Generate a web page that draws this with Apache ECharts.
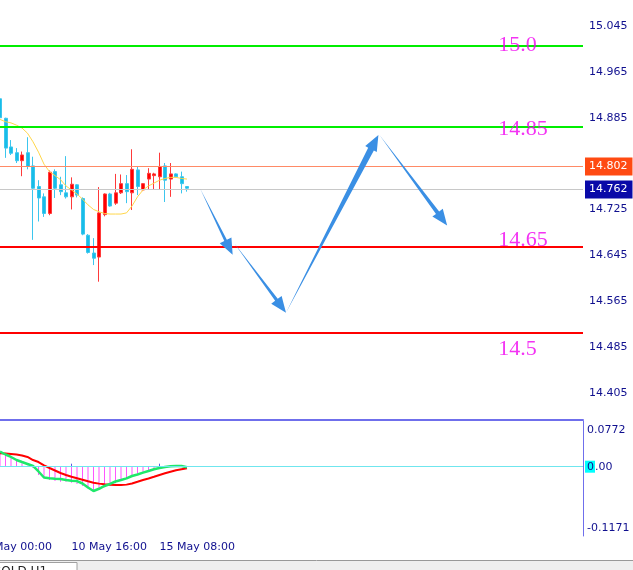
<!DOCTYPE html>
<html><head><meta charset="utf-8">
<script src="https://cdn.jsdelivr.net/npm/echarts@6/dist/echarts.min.js"></script>
<style>html,body{margin:0;padding:0;background:#fff}#c{width:633px;height:570px}</style>
</head><body><div id="c"></div>
<script>
// ---------- data ----------
const times = ['8 May 00:00','8 May 04:00','8 May 08:00','8 May 12:00','8 May 16:00','8 May 20:00',
  '9 May 00:00','9 May 04:00','9 May 08:00','9 May 12:00','9 May 16:00','9 May 20:00',
  '10 May 00:00','10 May 04:00','10 May 08:00','10 May 12:00','10 May 16:00','10 May 20:00',
  '13 May 00:00','13 May 04:00','13 May 08:00','13 May 12:00','13 May 16:00','13 May 20:00',
  '14 May 00:00','14 May 04:00','14 May 08:00','14 May 12:00','14 May 16:00','14 May 20:00',
  '15 May 00:00','15 May 04:00','15 May 08:00','15 May 12:00','15 May 16:00','15 May 20:00',
  '16 May 00:00','16 May 04:00'];
const firstBar = 3;        // first bar with drawn data (8 May 12:00)
const totalSlots = 110;    // bars visible across the chart incl. empty future space
const labelEvery = 16;

const opens  = [14.918,14.884,14.834,14.824,14.810,14.824,14.801,14.765,14.747,14.718,14.791,14.768,14.754,14.747,14.768,14.744,14.680,14.649,14.642,14.716,14.752,14.736,14.754,14.770,14.754,14.794,14.759,14.778,14.784,14.782,14.801,14.778,14.787,14.782,14.765];
const closes = [14.885,14.832,14.823,14.810,14.820,14.800,14.762,14.745,14.718,14.790,14.762,14.756,14.747,14.769,14.750,14.682,14.650,14.640,14.719,14.752,14.731,14.754,14.770,14.756,14.795,14.765,14.770,14.788,14.787,14.800,14.776,14.787,14.782,14.770,14.762];
const lows   = [14.881,14.815,14.820,14.806,14.783,14.795,14.672,14.704,14.712,14.715,14.745,14.750,14.744,14.725,14.746,14.680,14.648,14.628,14.599,14.713,14.730,14.733,14.752,14.736,14.724,14.750,14.757,14.759,14.759,14.759,14.738,14.747,14.781,14.753,14.756];
const highs  = [14.921,14.885,14.846,14.832,14.826,14.851,14.817,14.776,14.753,14.793,14.795,14.782,14.818,14.781,14.769,14.746,14.682,14.675,14.764,14.753,14.754,14.787,14.786,14.785,14.830,14.800,14.771,14.797,14.789,14.824,14.806,14.806,14.788,14.791,14.765];
const maValues = [14.882,14.878,14.876,14.872,14.867,14.858,14.843,14.825,14.804,14.791,14.784,14.777,14.766,14.759,14.752,14.743,14.733,14.725,14.721,14.718,14.717,14.717,14.717,14.719,14.731,14.747,14.759,14.766,14.771,14.776,14.779,14.781,14.781,14.779,14.778];

const macdHist  = [0.0265,0.0237,0.0169,0.0101,0.0057,0.0017,-0.0020,-0.0140,-0.0196,-0.0225,-0.0242,-0.0253,-0.0253,-0.0270,-0.0292,-0.0326,-0.0365,-0.0406,-0.0394,-0.0348,-0.0326,-0.0281,-0.0237,-0.0196,-0.0157,-0.0112,-0.0085,-0.0056,-0.0039,-0.0022,-0.0014,-0.0005,0.0003,0.0003,-0.0005];
const macdGreen = [0.0254,0.0206,0.0164,0.0113,0.0079,0.0046,0.0012,-0.0081,-0.0183,-0.0196,-0.0203,-0.0208,-0.0225,-0.0237,-0.0242,-0.0284,-0.0352,-0.0411,-0.0373,-0.0326,-0.0292,-0.0250,-0.0225,-0.0198,-0.0157,-0.0132,-0.0101,-0.0073,-0.0044,-0.0022,-0.0005,0.0007,0.0012,0.0012,-0.0010];
const macdRed   = [0.0226,0.0221,0.0215,0.0206,0.0189,0.0164,0.0113,0.0079,0.0024,-0.0022,-0.0064,-0.0106,-0.0140,-0.0171,-0.0196,-0.0221,-0.0247,-0.0270,-0.0286,-0.0297,-0.0306,-0.0309,-0.0309,-0.0303,-0.0284,-0.0255,-0.0225,-0.0199,-0.0171,-0.0140,-0.0112,-0.0085,-0.0061,-0.0044,-0.0027];

const priceMin = 14.3578, priceMax = 15.0903;
const priceTicks = [15.045, 14.965, 14.885, 14.725, 14.645, 14.565, 14.485, 14.405];
const macdMin = -0.1171, macdMax = 0.0772;
const macdTicks = [0.0772, 0, -0.1171];
const macdTickLabels = ['0.0772', '0.00', '-0.1171'];

const greenLevels = [15.008, 14.870];
const redLevels = [14.659, 14.507];
const askPrice = 14.802, bidPrice = 14.762;

const levelTexts = ['15.0', '14.85', '14.65', '14.5'];
const levelTextPrices = [15.011, 14.865, 14.671, 14.481];
const levelTextBar = 93.5;

// arrows: [fromBar, fromPrice, toBar, toPrice]
const arrows = [
  [39.4, 14.761, 45.3, 14.646],
  [45.6, 14.666, 55.0, 14.545],
  [55.0, 14.545, 71.8, 14.855],
  [72.0, 14.855, 84.3, 14.697]
];

// ---------- build ----------
const categories = times.concat(Array.from({length: totalSlots - times.length}, (_, i) => '#' + i));
const pad = arr => Array(firstBar).fill('-').concat(arr);
const candleData = pad(opens.map((o, i) => [o, closes[i], lows[i], highs[i]]));
const showLabel = (i) => i % labelEvery === 0 && i < times.length;

const NAVY = '#10108f';
const AXIS = '#6f6fec';

function renderArrow(params, api) {
  const s = api.coord([api.value(0), api.value(1)]);
  const e = api.coord([api.value(2), api.value(3)]);
  const dx = e[0] - s[0], dy = e[1] - s[1];
  const L = Math.hypot(dx, dy);
  const ux = dx / L, uy = dy / L, nx = -uy, ny = ux;
  const h = 16, hw = 6.5, sw = 0.4 + L * 0.014;
  const bx = e[0] - ux * h, by = e[1] - uy * h;
  return {
    type: 'polygon',
    shape: { points: [
      s,
      [bx + nx * sw, by + ny * sw],
      [bx + nx * hw, by + ny * hw],
      e,
      [bx - nx * hw, by - ny * hw],
      [bx - nx * sw, by - ny * sw]
    ]},
    style: { fill: '#3a8fe4' }
  };
}

const chart = echarts.init(document.getElementById('c'), null, {renderer: 'canvas'});
chart.setOption({
  animation: false,
  backgroundColor: '#ffffff',
  grid: [
    { left: -16.5, right: 50, top: 0, height: 420, outerBoundsMode: 'none' },
    { left: -16.5, right: 50, top: 421, height: 115, outerBoundsMode: 'none' }
  ],
  xAxis: [
    { type: 'category', gridIndex: 0, data: categories, boundaryGap: false,
      axisLine: { show: true, lineStyle: { color: AXIS, width: 2 } },
      axisTick: { show: false }, axisLabel: { show: false }, splitLine: { show: false } },
    { type: 'category', gridIndex: 1, data: categories, boundaryGap: false,
      axisLine: { show: true, lineStyle: { color: '#5a5ae2', width: 1 } },
      axisTick: { show: true, inside: true, length: 3, interval: showLabel, lineStyle: { color: '#5a5ae2' } },
      axisLabel: { show: true, interval: showLabel, align: 'left', margin: 6,
        color: NAVY, fontFamily: 'DejaVu Sans', fontSize: 11 },
      splitLine: { show: false } },
    { type: 'value', gridIndex: 0, min: 0, max: totalSlots - 1, show: false }
  ],
  yAxis: [
    { type: 'value', gridIndex: 0, position: 'right', min: priceMin, max: priceMax, scale: true,
      axisLine: { show: true, lineStyle: { color: AXIS, width: 1 } },
      axisTick: { show: true, length: 3, customValues: priceTicks, lineStyle: { color: AXIS } },
      axisLabel: { show: true, customValues: priceTicks, margin: 6, color: NAVY,
        fontFamily: 'DejaVu Sans', fontSize: 11, formatter: v => v.toFixed(3) },
      splitLine: { show: false } },
    { type: 'value', gridIndex: 1, position: 'right', min: macdMin, max: macdMax,
      axisLine: { show: true, lineStyle: { color: AXIS, width: 1 } },
      axisTick: { show: false },
      axisLabel: { show: true, customValues: macdTicks, margin: 2, color: NAVY,
        fontFamily: 'DejaVu Sans', fontSize: 11,
        formatter: v => {
          const i = macdTicks.findIndex(t => Math.abs(t - v) < 1e-9);
          const s = macdTickLabels[i];
          if (i === 0) return '{t|' + s + '}';
          if (i === 2) return '{b|' + s + '}';
          return '{z|' + s.charAt(0) + '}{n|' + s.slice(1) + '}';
        },
        rich: {
          t: { padding: [18, 0, 0, 2], color: NAVY, fontFamily: 'DejaVu Sans', fontSize: 11 },
          b: { padding: [0, 0, 16, 2], color: NAVY, fontFamily: 'DejaVu Sans', fontSize: 11 },
          z: { backgroundColor: '#00ffff', color: NAVY, fontFamily: 'DejaVu Sans', fontSize: 11, padding: [1, 1, 0, 2] },
          n: { color: NAVY, fontFamily: 'DejaVu Sans', fontSize: 11 }
        } },
      splitLine: { show: false } }
  ],
  series: [
    { type: 'candlestick', xAxisIndex: 0, yAxisIndex: 0, data: candleData, barWidth: 3.5, z: 2,
      itemStyle: { color: '#ff0000', color0: '#17bde8', borderColor: '#ff3a3a', borderColor0: '#3cc6ee', borderWidth: 1 } },
    { type: 'line', xAxisIndex: 0, yAxisIndex: 0, data: pad(maValues), symbol: 'none', z: 3,
      lineStyle: { color: '#ffd64a', width: 1 },
      markLine: { silent: true, symbol: 'none', animation: false, z: 4,
        data: [
          ...greenLevels.map(v => ({ yAxis: v, lineStyle: { color: '#00ee00', width: 2, type: 'solid' }, label: { show: false } })),
          ...redLevels.map(v => ({ yAxis: v, lineStyle: { color: '#ff0000', width: 2, type: 'solid' }, label: { show: false } })),
          { yAxis: askPrice, lineStyle: { color: '#ff8a66', width: 1, type: 'solid' },
            label: { show: true, position: 'end', distance: 2, formatter: askPrice.toFixed(3), color: '#ffffff',
              backgroundColor: '#ff4a12', padding: [4, 5, 3, 4], fontFamily: 'DejaVu Sans', fontSize: 11 } },
          { yAxis: bidPrice, lineStyle: { color: '#c8c8c8', width: 1, type: 'solid' },
            label: { show: true, position: 'end', distance: 2, formatter: bidPrice.toFixed(3), color: '#ffffff',
              backgroundColor: '#0a0aa8', padding: [4, 5, 3, 4], fontFamily: 'DejaVu Sans', fontSize: 11 } }
        ] } },
    { type: 'custom', xAxisIndex: 2, yAxisIndex: 0, data: arrows, renderItem: renderArrow, z: 5, silent: true },
    { type: 'scatter', xAxisIndex: 2, yAxisIndex: 0, z: 6, silent: true, symbolSize: 1,
      itemStyle: { color: 'rgba(0,0,0,0)' },
      data: levelTexts.map((t, i) => [levelTextBar, levelTextPrices[i], t]),
      label: { show: true, position: 'right', distance: 0, formatter: p => p.value[2],
        color: '#f000f0', fontFamily: 'Liberation Serif', fontSize: 22 } },
    { type: 'bar', xAxisIndex: 1, yAxisIndex: 1, data: pad(macdHist), barWidth: 1, z: 2,
      itemStyle: { color: '#ff55ff' },
      markLine: { silent: true, symbol: 'none', animation: false,
        data: [{ yAxis: 0 }], lineStyle: { color: '#6fe6ee', width: 1, type: 'solid' }, label: { show: false } } },
    { type: 'line', xAxisIndex: 1, yAxisIndex: 1, data: pad(macdRed), symbol: 'none', z: 3,
      lineStyle: { color: '#ff0000', width: 2 } },
    { type: 'line', xAxisIndex: 1, yAxisIndex: 1, data: pad(macdGreen), symbol: 'none', z: 4,
      lineStyle: { color: '#1ee86a', width: 2.5 } }
  ],
  graphic: [
    { type: 'rect', z: 10, shape: { x: 0, y: 561, width: 633, height: 9 }, style: { fill: '#efefef' } },
    { type: 'line', z: 11, shape: { x1: 0, y1: 560.5, x2: 633, y2: 560.5 }, style: { stroke: '#999999', lineWidth: 1 } },
    { type: 'rect', z: 12, shape: { x: -2, y: 562.5, width: 79, height: 12 }, style: { fill: '#ffffff', stroke: '#a0a0a0', lineWidth: 1 } },
    { type: 'text', z: 13, style: { text: 'GOLD,H1', x: -8, y: 565.5, font: '12px "DejaVu Sans"', fill: '#222222', verticalAlign: 'top' } }
  ]
});
</script>
</body></html>
